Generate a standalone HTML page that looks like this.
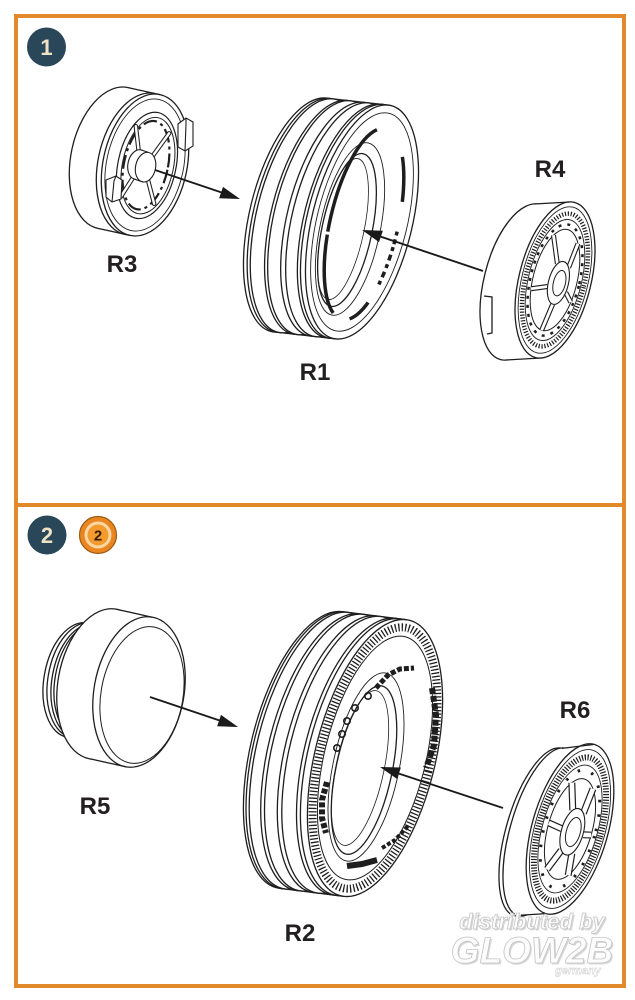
<!DOCTYPE html>
<html><head><meta charset="utf-8"><style>
html,body{margin:0;padding:0;background:#fff;}
svg{display:block;}
text{font-family:"Liberation Sans",sans-serif;}
</style></head><body>
<svg width="635" height="1000" viewBox="0 0 635 1000" xmlns="http://www.w3.org/2000/svg">
<rect x="0" y="0" width="635" height="1000" fill="#fff"/>
<rect x="16" y="16" width="608" height="970" fill="#fff" stroke="#e2892a" stroke-width="4"/>
<line x1="16" y1="505" x2="624" y2="505" stroke="#e2892a" stroke-width="4"/>

<!-- badges -->
<circle cx="46.5" cy="47" r="19.5" fill="#2a4759"/>
<text x="46.5" y="55" text-anchor="middle" font-size="22" font-weight="bold" fill="#efe3c6">1</text>
<circle cx="47" cy="535" r="19.5" fill="#2a4759"/>
<text x="47" y="543" text-anchor="middle" font-size="22" font-weight="bold" fill="#efe3c6">2</text>
<circle cx="98" cy="535" r="18.5" fill="#e9861f" stroke="#9c5a14" stroke-width="1.2"/>
<circle cx="98" cy="535" r="12" fill="#f39b2e" stroke="#fbd7a3" stroke-width="3"/>
<text x="98" y="540.5" text-anchor="middle" font-size="15" font-weight="bold" fill="#3b1d05">2</text>

<!-- ================= R3 ================= -->
<g fill="#fff" stroke="#1e1e1e" stroke-width="1.3">
  <ellipse cx="113" cy="158" rx="42" ry="72" transform="rotate(12 113 158)"/>
  <polygon points="128,87.6 160,94.6 130,235.4 98,228.4" stroke="none"/>
  <ellipse cx="140" cy="164" rx="42" ry="72" transform="rotate(12 140 164)"/>
  <ellipse cx="145" cy="165" rx="42" ry="72" transform="rotate(12 145 165)"/>
  <line x1="128" y1="87.6" x2="160" y2="94.6"/>
  <line x1="98" y1="228.4" x2="130" y2="235.4"/>
</g>
<g transform="translate(145 165) rotate(12)" stroke="#1e1e1e" fill="none">
  <ellipse rx="38.5" ry="67" stroke-width="0.9"/>
  <ellipse cx="2" rx="29" ry="54" fill="#fff" stroke-width="1.2"/>
  <ellipse cx="3" rx="25.5" ry="49" stroke-width="1"/>
  <ellipse cx="1" rx="22" ry="45" stroke-width="2.2" stroke-dasharray="14 4 3 4"/>
  <g stroke-width="4.5" stroke-linecap="round">
    <path d="M5,12 L17,36 M-8,12 L-17,36 M-8,-9 L-17,-36 M5,-9 L17,-36"/>
  </g>
  <g stroke="#fff" stroke-width="2.4" stroke-linecap="round">
    <path d="M5,12 L17,36 M-8,12 L-17,36 M-8,-9 L-17,-36 M5,-9 L17,-36"/>
  </g>
  <ellipse cx="-7" cy="1" rx="10" ry="15" fill="#fff" stroke-width="1.1"/>
  <ellipse cx="-3" cy="1.5" rx="10" ry="15" fill="#fff" stroke="none"/>
  <ellipse cx="1" cy="2" rx="10" ry="15" fill="#fff" stroke-width="1.1"/>
  <line x1="-7" y1="-14" x2="1" y2="-13" stroke-width="1.1"/>
  <line x1="-7" y1="16" x2="1" y2="17" stroke-width="1.1"/>
</g>
<g fill="#fff" stroke="#1e1e1e" stroke-width="1.1">
  <path d="M178,124 L186,118 L193,122 L193,146 L185,151 L178,147 Z"/>
  <path d="M186,118 L186,124 L185,151" fill="none"/>
  <path d="M106,180 L116,176 L122,180 L121,199 L112,202 L106,197 Z"/>
  <path d="M116,176 L114,181 L112,202" fill="none"/>
</g>
<text x="122" y="272" text-anchor="middle" font-size="24" font-weight="bold" fill="#231f20">R3</text>

<!-- ================= R1 tire ================= -->
<g fill="#fff" stroke="#1e1e1e" stroke-width="1.3">
  <ellipse cx="300" cy="215" rx="50" ry="120" transform="rotate(14 300 215)"/>
  <polygon points="326.3,98.1 388.3,105.1 335.7,338.9 273.7,331.9" stroke="none"/>
  <ellipse cx="303.7" cy="215.4" rx="50" ry="120" transform="rotate(14 303.7 215.4)"/>
  <ellipse cx="306.8" cy="215.8" rx="50" ry="120" transform="rotate(14 306.8 215.8)"/>
  <ellipse cx="321.1" cy="217.4" rx="50" ry="120" transform="rotate(14 321.1 217.4)"/>
  <ellipse cx="324.2" cy="217.7" rx="50" ry="120" transform="rotate(14 324.2 217.7)"/>
  <ellipse cx="337.2" cy="219.2" rx="50" ry="120" transform="rotate(14 337.2 219.2)"/>
  <ellipse cx="342.2" cy="219.8" rx="50" ry="120" transform="rotate(14 342.2 219.8)"/>
  <ellipse cx="353.9" cy="221.1" rx="50" ry="120" transform="rotate(14 353.9 221.1)"/>
  <ellipse cx="357" cy="221.4" rx="50" ry="120" transform="rotate(14 357 221.4)"/>
  <ellipse cx="362" cy="222" rx="50" ry="120" transform="rotate(14 362 222)"/>
  <line x1="326.3" y1="98.1" x2="388.3" y2="105.1"/>
  <line x1="273.7" y1="331.9" x2="335.7" y2="338.9"/>
</g>
<g fill="none" stroke="#1e1e1e">
  <ellipse cx="362" cy="222" rx="45" ry="112" transform="rotate(14 362 222)" stroke-width="0.9"/>
  <ellipse cx="350" cy="229" rx="30" ry="88" transform="rotate(12 350 229)" stroke-width="0.9"/>
  <ellipse cx="347" cy="230" rx="25" ry="78" transform="rotate(12 347 230)" fill="#fff" stroke-width="1.3"/>
  <ellipse cx="343" cy="229" rx="21" ry="72" transform="rotate(12 343 229)" stroke-width="0.8"/>
  <ellipse cx="364" cy="224" rx="34" ry="98" transform="rotate(13 364 224)" stroke-width="3.5"
    stroke-dasharray="4 4 5 3 4 4 6 4 4 4 6 4 4 21 25 19 80 3 116 44 45 39 4 3 4 2"/>
</g>
<text x="315" y="380" text-anchor="middle" font-size="24" font-weight="bold" fill="#231f20">R1</text>

<!-- ================= R4 ================= -->
<g fill="#fff" stroke="#1e1e1e" stroke-width="1.3">
  <ellipse cx="520" cy="282" rx="36" ry="80" transform="rotate(14 520 282)"/>
  <polygon points="534.3,204 569.3,202 540.7,358 505.7,360" stroke="none"/>
  <ellipse cx="555" cy="280" rx="36" ry="80" transform="rotate(14 555 280)"/>
  <line x1="534.3" y1="204" x2="569.3" y2="202"/>
  <line x1="505.7" y1="360" x2="540.7" y2="358"/>
  <path d="M484,296 L492,297 L492,333 L487,334" fill="#fff"/>
</g>
<g transform="translate(555 280) rotate(14)" fill="none" stroke="#1e1e1e">
  <ellipse rx="33" ry="75" stroke-width="0.9"/>
  <ellipse rx="29.5" ry="68" stroke-width="4.5" stroke-dasharray="1.2 1.7"/>
  <ellipse rx="26.5" ry="62" stroke-width="0.9"/>
  <ellipse rx="24.5" ry="57" stroke-width="2.5" stroke-dasharray="3 6"/>
  <ellipse rx="22" ry="52" fill="#fff" stroke-width="1"/>
  <path d="M13.4,9.5 L20.7,17.8 M3.6,24 L-0.8,52 M-5.6,8.1 L-21.1,14.3 M-1.6,-16.2 L-12.3,-43.1 M10.2,-15.3 L13.5,-41" stroke-width="5"/>
  <path d="M13.4,9.5 L20.7,17.8 M3.6,24 L-0.8,52 M-5.6,8.1 L-21.1,14.3 M-1.6,-16.2 L-12.3,-43.1 M10.2,-15.3 L13.5,-41" stroke="#fff" stroke-width="2.8"/>
  <ellipse cx="4" cy="2" rx="10" ry="22" fill="#fff" stroke-width="1.1"/>
  <ellipse cx="5" cy="2" rx="6" ry="13" stroke-width="1"/>
</g>
<text x="550" y="177" text-anchor="middle" font-size="24" font-weight="bold" fill="#231f20">R4</text>

<!-- ================= R5 ================= -->
<g fill="#fff" stroke="#1e1e1e" stroke-width="1.3">
  <ellipse cx="77" cy="680" rx="33" ry="58" transform="rotate(10 77 680)"/>
  <ellipse cx="81" cy="680" rx="33" ry="58" transform="rotate(10 81 680)"/>
  <ellipse cx="85" cy="681" rx="33" ry="58" transform="rotate(10 85 681)"/>
  <ellipse cx="89" cy="681" rx="34" ry="59" transform="rotate(10 89 681)"/>
  <ellipse cx="103" cy="684" rx="45" ry="76" transform="rotate(10 103 684)"/>
  <polygon points="116.2,609.2 152.2,617.2 125.8,766.8 89.8,758.8" stroke="none"/>
  <ellipse cx="139" cy="692" rx="45" ry="76" transform="rotate(10 139 692)"/>
  <line x1="116.2" y1="609.2" x2="152.2" y2="617.2"/>
  <line x1="89.8" y1="758.8" x2="125.8" y2="766.8"/>
  <ellipse cx="142" cy="695" rx="41" ry="69" transform="rotate(10 142 695)" fill="none" stroke-width="1"/>
</g>
<text x="95" y="814" text-anchor="middle" font-size="24" font-weight="bold" fill="#231f20">R5</text>

<!-- ================= R2 tire ================= -->
<g fill="#fff" stroke="#1e1e1e" stroke-width="1.3">
  <ellipse cx="311" cy="750" rx="60" ry="142" transform="rotate(14 311 750)"/>
  <polygon points="342.4,611.7 406.4,619.7 343.6,896.3 279.6,888.3" stroke="none"/>
  <ellipse cx="313.6" cy="750.3" rx="60" ry="142" transform="rotate(14 313.6 750.3)"/>
  <ellipse cx="316.8" cy="750.7" rx="60" ry="142" transform="rotate(14 316.8 750.7)"/>
  <ellipse cx="328.3" cy="752.2" rx="60" ry="142" transform="rotate(14 328.3 752.2)"/>
  <ellipse cx="332.1" cy="752.6" rx="60" ry="142" transform="rotate(14 332.1 752.6)"/>
  <ellipse cx="344.9" cy="754.2" rx="60" ry="142" transform="rotate(14 344.9 754.2)"/>
  <ellipse cx="349.4" cy="754.8" rx="60" ry="142" transform="rotate(14 349.4 754.8)"/>
  <ellipse cx="364.1" cy="756.6" rx="60" ry="142" transform="rotate(14 364.1 756.6)"/>
  <ellipse cx="368" cy="757.1" rx="60" ry="142" transform="rotate(14 368 757.1)"/>
  <ellipse cx="375" cy="758" rx="60" ry="142" transform="rotate(14 375 758)"/>
  <line x1="342.4" y1="611.7" x2="406.4" y2="619.7"/>
  <line x1="279.6" y1="888.3" x2="343.6" y2="896.3"/>
</g>
<g fill="none" stroke="#1e1e1e">
  <ellipse cx="375" cy="758" rx="55" ry="134" transform="rotate(14 375 758)" stroke-width="8" stroke-dasharray="1.3 2.1"/>
  <ellipse cx="375" cy="758" rx="50.5" ry="125" transform="rotate(14 375 758)" stroke-width="1"/>
  <ellipse cx="366" cy="767" rx="33" ry="96" transform="rotate(12 366 767)" stroke-width="0.9"/>
  <ellipse cx="364" cy="770" rx="28" ry="86" transform="rotate(12 364 770)" fill="#fff" stroke-width="1.3"/>
  <ellipse cx="360" cy="768" rx="24" ry="79" transform="rotate(12 360 768)" stroke-width="0.8"/>
  <g stroke-width="1.6">
    <circle cx="337" cy="748" r="3.2"/>
    <circle cx="342" cy="734" r="3.2"/>
    <circle cx="347" cy="721" r="3.2"/>
    <circle cx="355" cy="708" r="3.2"/>
    <circle cx="368" cy="696" r="3.2"/>
  </g>
  <polyline points="376,688 388,675 400,669 414,668" stroke-width="5" stroke-dasharray="5 2"/>
  <polyline points="432,688 436,715 434,745 426,768" stroke-width="6" stroke-dasharray="6 2"/>
  <polyline points="347,866 362,864 377,860" stroke-width="6"/>
  <polyline points="327,782 322,800 322,818 326,833" stroke-width="6" stroke-dasharray="5 2"/>
  <polyline points="382,848 395,840 408,826" stroke-width="4" stroke-dasharray="4 2"/>
</g>
<text x="300" y="941" text-anchor="middle" font-size="24" font-weight="bold" fill="#231f20">R2</text>

<!-- ================= R6 ================= -->
<g fill="#fff" stroke="#1e1e1e" stroke-width="1.3">
  <ellipse cx="538" cy="832" rx="32" ry="87" transform="rotate(16 538 832)"/>
  <ellipse cx="542" cy="832" rx="32" ry="87" transform="rotate(16 542 832)"/>
  <polygon points="562,748.4 594.3,744.4 545.7,913.6 514,915.6" stroke="none"/>
  <ellipse cx="570" cy="829" rx="38" ry="88" transform="rotate(16 570 829)"/>
  <line x1="562" y1="748.4" x2="594.3" y2="744.4"/>
  <line x1="514" y1="915.6" x2="545.7" y2="913.6"/>
</g>
<g transform="translate(570 829) rotate(16)" fill="none" stroke="#1e1e1e">
  <ellipse rx="35" ry="82" stroke-width="0.9"/>
  <ellipse rx="31" ry="74" stroke-width="6" stroke-dasharray="1.2 1.6"/>
  <ellipse rx="27.5" ry="66" stroke-width="0.9"/>
  <ellipse rx="25.5" ry="61" stroke-width="3" stroke-dasharray="2.5 12"/>
  <ellipse rx="22" ry="52" fill="#fff" stroke-width="1"/>
  <path d="M14,2 L22,0 M8.5,22.8 L11,45 M-2.5,22.8 L-11,45 M-8,2 L-22,0 M-2.5,-18.8 L-11,-45 M8.5,-18.8 L11,-45" stroke-width="7"/>
  <path d="M14,2 L22,0 M8.5,22.8 L11,45 M-2.5,22.8 L-11,45 M-8,2 L-22,0 M-2.5,-18.8 L-11,-45 M8.5,-18.8 L11,-45" stroke="#fff" stroke-width="4.6"/>
  <ellipse cx="3" cy="2" rx="11" ry="24" fill="#fff" stroke-width="1.1"/>
  <ellipse cx="4" cy="2" rx="7" ry="15" stroke-width="1"/>
</g>
<text x="575" y="718" text-anchor="middle" font-size="24" font-weight="bold" fill="#231f20">R6</text>

<!-- ================= arrows ================= -->
<g stroke="#1a1a1a" stroke-width="1.9">
  <line x1="155" y1="170" x2="232" y2="196"/>
  <line x1="483" y1="271" x2="370" y2="233"/>
  <line x1="150" y1="697" x2="230" y2="724"/>
  <line x1="503" y1="808" x2="388" y2="770"/>
</g>
<g fill="#1a1a1a">
  <polygon points="0,0 -20,-6 -20,6" transform="translate(240 199) rotate(18.8)"/>
  <polygon points="0,0 -20,-6 -20,6" transform="translate(362 230) rotate(198.7)"/>
  <polygon points="0,0 -20,-6 -20,6" transform="translate(238 727) rotate(18.8)"/>
  <polygon points="0,0 -20,-6 -20,6" transform="translate(380 767) rotate(198.2)"/>
</g>

<!-- ================= watermark ================= -->
<g font-style="italic" font-weight="bold" text-anchor="middle">
  <g fill="#d8d8d8" transform="translate(1.5 1.5)">
    <text x="532" y="929" font-size="22">distributed by</text>
    <text x="532" y="963" font-size="37">GLOW2B</text>
  </g>
  <g fill="#fcfcfc" stroke="#c4c4c4" stroke-width="0.8">
    <text x="532" y="929" font-size="22">distributed by</text>
    <text x="532" y="963" font-size="37">GLOW2B</text>
    <text x="578" y="974" font-size="11" stroke-width="0.4">germany</text>
  </g>
</g>
</svg>
</body></html>
